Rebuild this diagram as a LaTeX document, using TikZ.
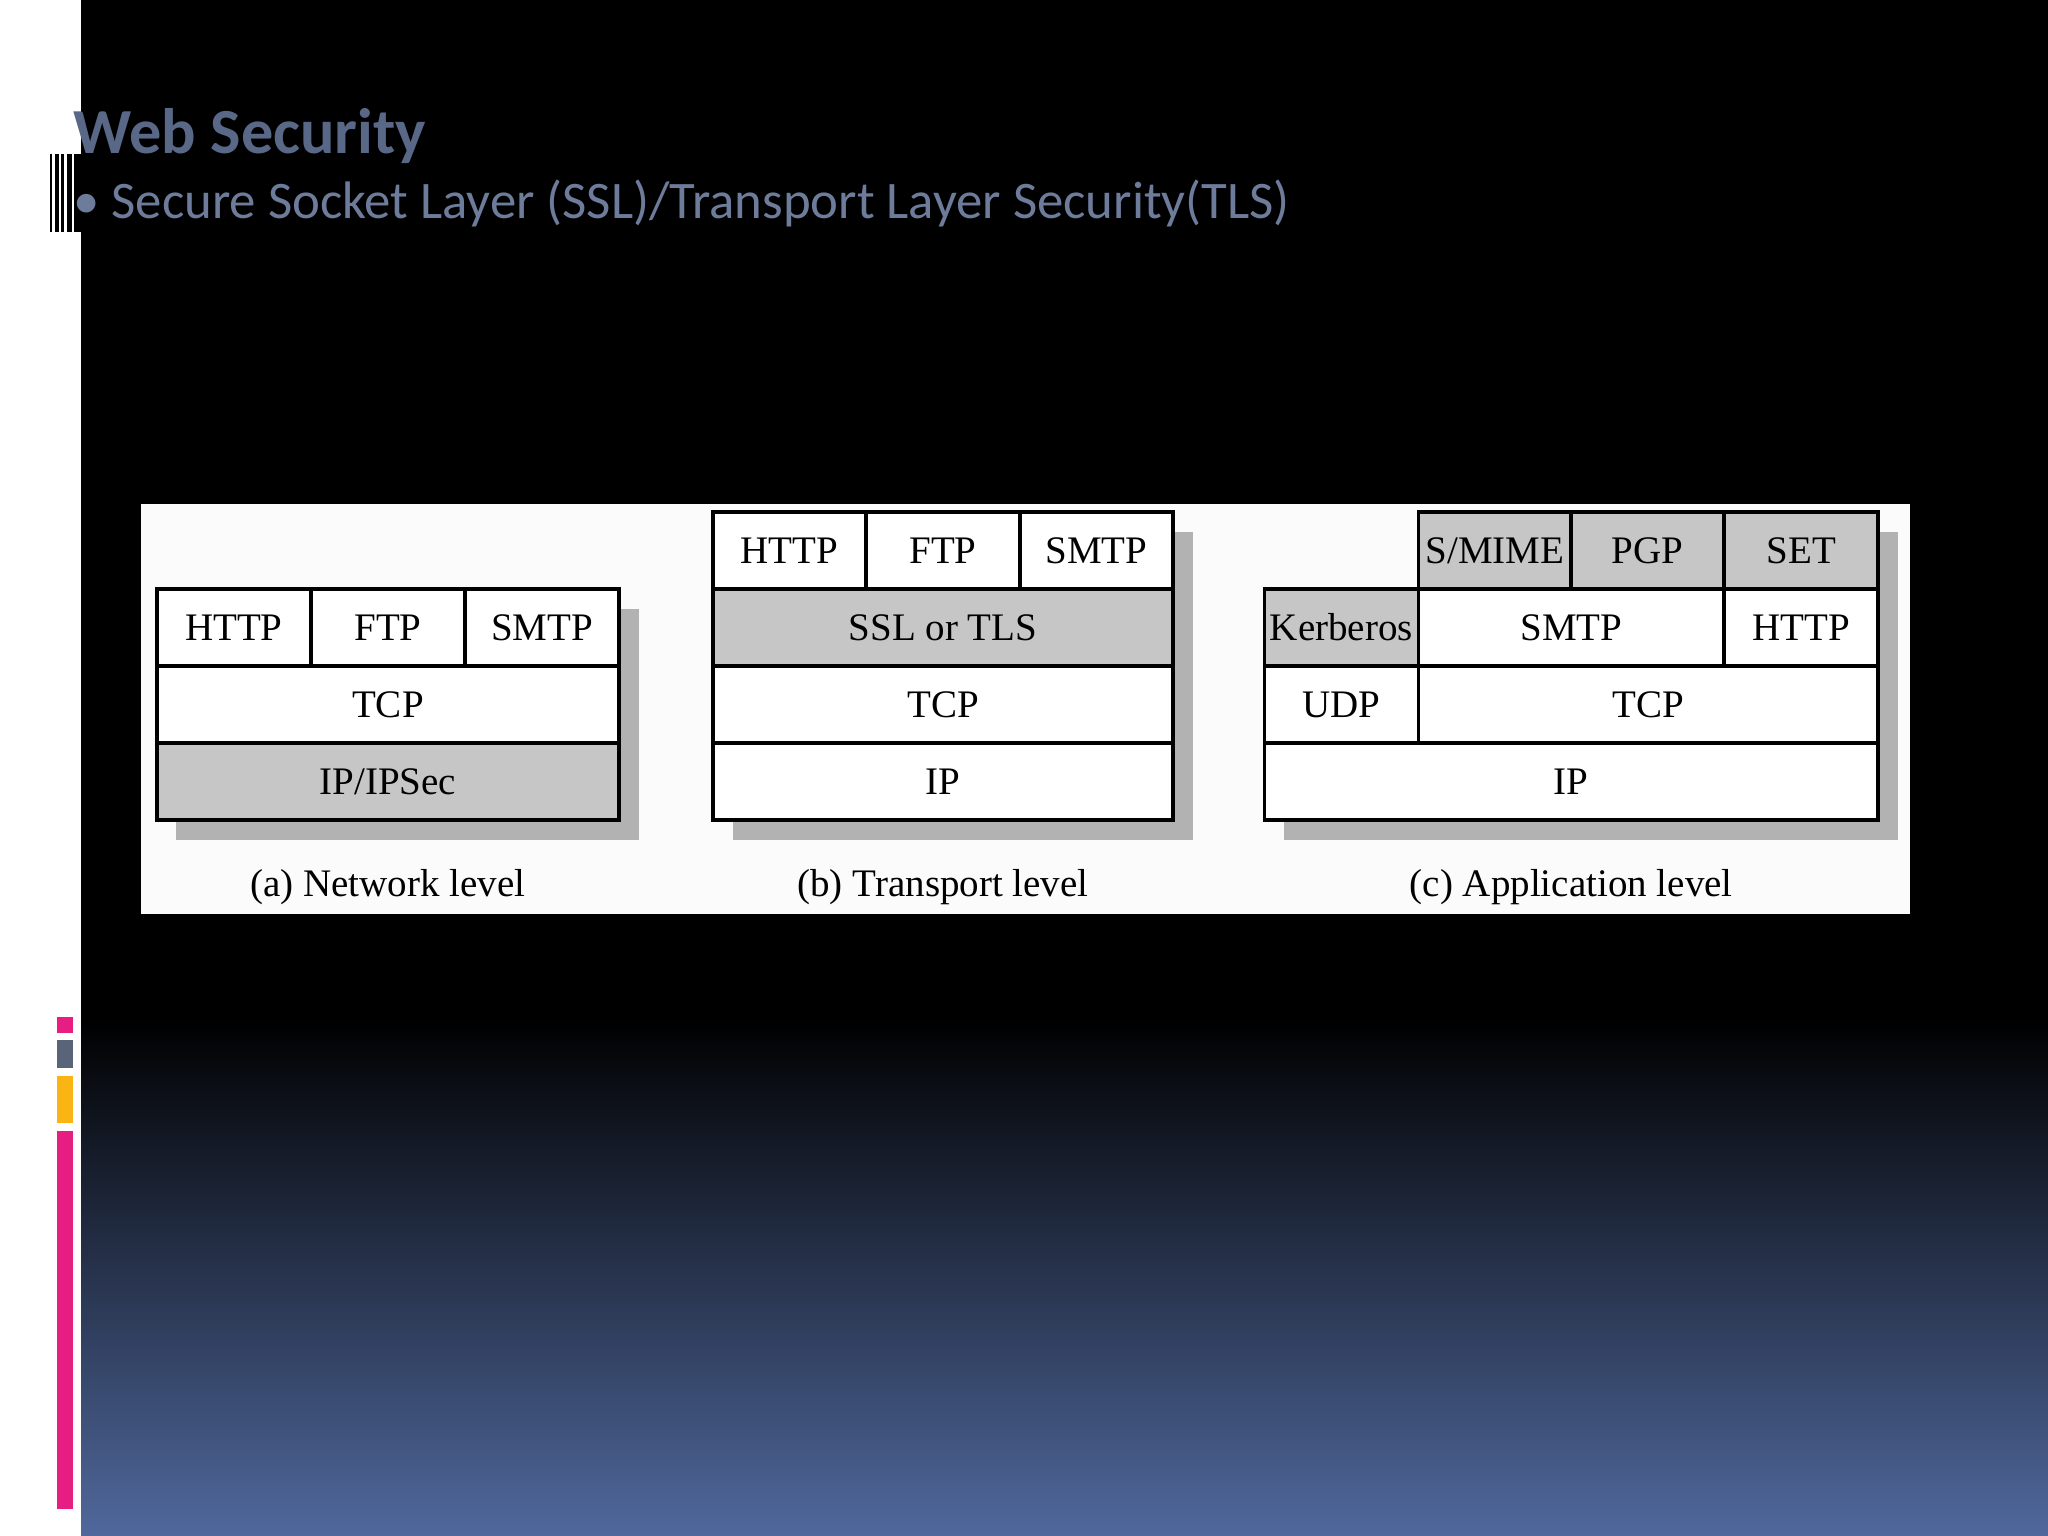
\documentclass[tikz,border=0pt]{standalone}
\usepackage{fontspec}
\setmainfont{Liberation Serif}
\newfontfamily\slidefont{Carlito}
\definecolor{bgblue}{RGB}{80,104,156}
\definecolor{pinkbar}{RGB}{230,30,130}
\definecolor{graybar}{RGB}{90,100,120}
\definecolor{orangebar}{RGB}{250,180,20}
\definecolor{titlec}{RGB}{90,104,135}
\definecolor{subc}{RGB}{110,124,155}
\begin{document}
\begin{tikzpicture}[x=0.02cm,y=-0.02cm,
 cell/.style={draw=black,line width=1.6pt,minimum height=1.18cm,inner sep=0pt,font=\fontsize{17}{17}\selectfont},
 gcell/.style={cell,fill=gray!45},
 wcell/.style={cell,fill=white},
 captext/.style={font=\fontsize{17}{17}\selectfont}]
\useasboundingbox (0,0) rectangle (1568,1176);
% background
\fill[black] (62,0) rectangle (1568,780);
\shade[top color=black,bottom color=bgblue] (62,780) rectangle (1568,1176);
\fill[white] (0,0) rectangle (62,1176);
% barcode
\foreach \x/\w in {38/2,42/3,47/2,51/4,57/5}{\fill[black] (\x,118) rectangle (\x+\w,178);}
% left bars
\fill[pinkbar] (44,779) rectangle (56,791);
\fill[graybar] (44,796) rectangle (56,818);
\fill[orangebar] (44,824) rectangle (56,860);
\fill[pinkbar] (44,866) rectangle (56,1155);
% titles
\node[anchor=west,font=\slidefont\bfseries\fontsize{28}{28}\selectfont,text=titlec] (title) at (50,104) {Web Security};
\node[anchor=west,font=\slidefont\fontsize{23}{23}\selectfont,text=subc] (sub) at (50,156) {\textbullet\ Secure Socket Layer (SSL)/Transport Layer Security(TLS)};
% panel
\fill[white!97!gray] (108,386) rectangle (1462,700);
% shadows
\fill[gray!60] (135,466) rectangle (489,643);
\fill[gray!60] (561,407) rectangle (913,643);
\fill[gray!60] (983,466) rectangle (1453,643);
\fill[gray!60] (1101,407) rectangle (1453,466);
% (a)
\node[wcell,minimum width=2.36cm] (a1) at (179,480.5) {HTTP};
\node[wcell,minimum width=2.36cm] (a2) at (297,480.5) {FTP};
\node[wcell,minimum width=2.36cm] (a3) at (415,480.5) {SMTP};
\node[wcell,minimum width=7.08cm] (a4) at (297,539.5) {TCP};
\node[gcell,minimum width=7.08cm] (a5) at (297,598.5) {IP/IPSec};
\node[captext] (ca) at (297,679) {(a) Network level};
% (b)
\node[wcell,minimum width=2.34cm] (b1) at (604.5,421.5) {HTTP};
\node[wcell,minimum width=2.36cm] (b2) at (722,421.5) {FTP};
\node[wcell,minimum width=2.34cm] (b3) at (839.5,421.5) {SMTP};
\node[gcell,minimum width=7.04cm] (b4) at (722,480.5) {SSL or TLS};
\node[wcell,minimum width=7.04cm] (b5) at (722,539.5) {TCP};
\node[wcell,minimum width=7.04cm] (b6) at (722,598.5) {IP};
\node[captext] (cb) at (722,679) {(b) Transport level};
% (c)
\node[gcell,minimum width=2.34cm] (c1) at (1144.5,421.5) {S/MIME};
\node[gcell,minimum width=2.34cm] (c2) at (1261.5,421.5) {PGP};
\node[gcell,minimum width=2.36cm] (c3) at (1379,421.5) {SET};
\node[gcell,minimum width=2.36cm] (c4) at (1027,480.5) {Kerberos};
\node[wcell,minimum width=4.68cm] (c5) at (1203,480.5) {SMTP};
\node[wcell,minimum width=2.36cm] (c6) at (1379,480.5) {HTTP};
\node[wcell,minimum width=2.36cm] (c7) at (1027,539.5) {UDP};
\node[wcell,minimum width=7.04cm] (c8) at (1262,539.5) {TCP};
\node[wcell,minimum width=9.4cm] (c9) at (1203,598.5) {IP};
\node[captext] (cc) at (1203,679) {(c) Application level};
\end{tikzpicture}
\end{document}
